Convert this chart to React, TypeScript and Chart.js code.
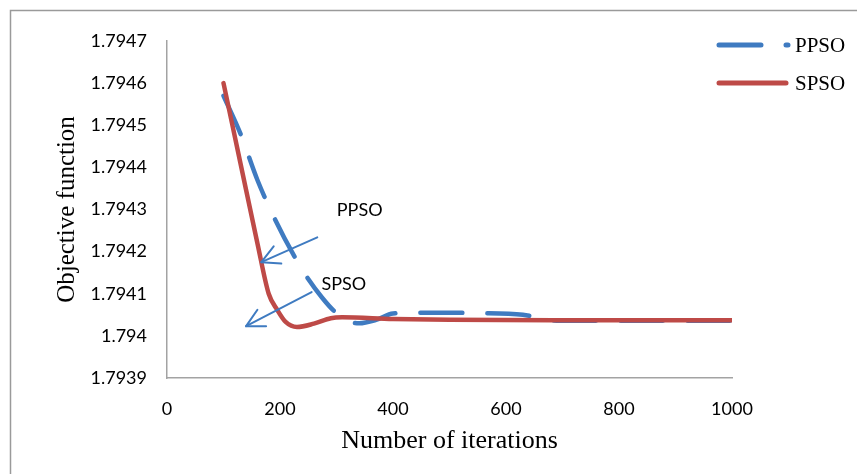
import React, { useEffect, useRef } from "react";
import { Chart, registerables } from "chart.js";
Chart.register(...registerables);

const seriesNames = ["PPSO", "SPSO"];
const ppsoIter = [100, 130, 160, 190, 225, 250, 275, 295, 320, 340, 370, 400, 450, 550, 630, 690, 800, 1000];
const ppsoValue = [1.79457, 1.79448, 1.79437, 1.79428, 1.79419, 1.794135, 1.79409, 1.79406, 1.794035, 1.79403, 1.794038, 1.794053, 1.794055, 1.794054, 1.79405, 1.794036, 1.794036, 1.794036];
const spsoIter = [100, 130, 160, 180, 195, 210, 230, 260, 290, 310, 400, 500, 700, 1000];
const spsoValue = [1.7946, 1.79441, 1.79422, 1.7941, 1.794062, 1.794033, 1.794021, 1.794029, 1.794042, 1.794044, 1.79404, 1.794038, 1.794037, 1.794037];
const xTicks = [0, 200, 400, 600, 800, 1000];
const xTickLabels = ["0", "200", "400", "600", "800", "1000"];
const yTicks = [1.7939, 1.794, 1.7941, 1.7942, 1.7943, 1.7944, 1.7945, 1.7946, 1.7947];
const yTickLabels = ["1.7939", "1.794", "1.7941", "1.7942", "1.7943", "1.7944", "1.7945", "1.7946", "1.7947"];
const xTitle = "Number of iterations";
const yTitle = "Objective function";
// annotation arrows in data coordinates: [fromX, fromY, toX, toY]
const arrowPPSO = [266, 1.794234, 167, 1.794175];
const arrowSPSO = [256, 1.794104, 140, 1.794023];
const labelPPSO = [341, 1.794299];
const labelSPSO = [313, 1.794123];

const BLUE = "#3F7BC1";
const RED = "#BE4A47";
const AXIS = "#A3A3A3";
const SANS = "Lato, 'Open Sans', sans-serif";
const SERIF = "'Liberation Serif', 'Times New Roman', serif";

const decorPlugin = {
  id: "decor",
  beforeDraw(chart: any) {
    const ctx = chart.ctx;
    ctx.save();
    ctx.fillStyle = "#ffffff";
    ctx.fillRect(0, 0, chart.width, chart.height);
    ctx.strokeStyle = "#9a9a9a";
    ctx.lineWidth = 1.5;
    ctx.beginPath();
    ctx.moveTo(10.5, chart.height);
    ctx.lineTo(10.5, 10.5);
    ctx.lineTo(chart.width, 10.5);
    ctx.stroke();
    ctx.restore();
  },
  afterDatasetsDraw(chart: any) {
    const ctx = chart.ctx;
    const xs = chart.scales.x;
    const ys = chart.scales.y;
    ctx.save();
    const drawArrow = (a: number[]) => {
      const x1 = xs.getPixelForValue(a[0]);
      const y1 = ys.getPixelForValue(a[1]);
      const x2 = xs.getPixelForValue(a[2]);
      const y2 = ys.getPixelForValue(a[3]);
      ctx.strokeStyle = BLUE;
      ctx.lineWidth = 2;
      ctx.lineCap = "round";
      ctx.lineJoin = "round";
      ctx.setLineDash([]);
      ctx.beginPath();
      ctx.moveTo(x1, y1);
      ctx.lineTo(x2, y2);
      ctx.stroke();
      const ang = Math.atan2(y1 - y2, x1 - x2);
      const L = 20;
      const w = (28 * Math.PI) / 180;
      ctx.beginPath();
      ctx.moveTo(x2 + L * Math.cos(ang - w), y2 + L * Math.sin(ang - w));
      ctx.lineTo(x2, y2);
      ctx.lineTo(x2 + L * Math.cos(ang + w), y2 + L * Math.sin(ang + w));
      ctx.stroke();
    };
    drawArrow(arrowPPSO);
    drawArrow(arrowSPSO);
    ctx.fillStyle = "#000";
    ctx.font = "18px " + SANS;
    ctx.textAlign = "center";
    ctx.textBaseline = "middle";
    ctx.fillText(seriesNames[0], xs.getPixelForValue(labelPPSO[0]), ys.getPixelForValue(labelPPSO[1]));
    ctx.fillText(seriesNames[1], xs.getPixelForValue(labelSPSO[0]), ys.getPixelForValue(labelSPSO[1]));

    // legend
    const lx0 = 719;
    ctx.lineWidth = 5;
    ctx.lineCap = "round";
    ctx.strokeStyle = BLUE;
    ctx.setLineDash([42, 25]);
    ctx.beginPath();
    ctx.moveTo(lx0, 45);
    ctx.lineTo(788, 45);
    ctx.stroke();
    ctx.setLineDash([]);
    ctx.strokeStyle = RED;
    ctx.beginPath();
    ctx.moveTo(lx0, 83);
    ctx.lineTo(786, 83);
    ctx.stroke();
    ctx.fillStyle = "#000";
    ctx.font = "21px " + SERIF;
    ctx.textAlign = "left";
    ctx.fillText(seriesNames[0], 795, 46);
    ctx.fillText(seriesNames[1], 795, 84);
    ctx.restore();
  },
};

export default function App() {
  const ref = useRef<HTMLCanvasElement | null>(null);
  useEffect(() => {
    if (!ref.current) return;
    const chart = new Chart(ref.current, {
      type: "line",
      data: {
        datasets: [
          {
            label: seriesNames[0],
            data: ppsoIter.map((x, i) => ({ x, y: ppsoValue[i] })),
            borderColor: BLUE,
            borderWidth: 4.5,
            borderDash: [42, 25],
            borderCapStyle: "round",
            pointRadius: 0,
            cubicInterpolationMode: "monotone",
            fill: false,
            order: 1,
          },
          {
            label: seriesNames[1],
            data: spsoIter.map((x, i) => ({ x, y: spsoValue[i] })),
            borderColor: RED,
            borderWidth: 4.5,
            borderCapStyle: "round",
            pointRadius: 0,
            cubicInterpolationMode: "monotone",
            fill: false,
            order: 0,
          },
        ],
      },
      options: {
        responsive: false,
        animation: false,
        devicePixelRatio: 1,
        layout: { padding: { left: 10, top: 41, right: 125, bottom: 10 } },
        plugins: { legend: { display: false }, tooltip: { enabled: false } },
        scales: {
          x: {
            type: "linear",
            min: 0,
            max: 1000,
            afterBuildTicks: (s: any) => {
              s.ticks = xTicks.map((v) => ({ value: v }));
            },
            afterFit: (s: any) => {
              s.height = 86;
            },
            grid: { display: false, drawTicks: true, tickLength: 6, tickColor: AXIS, tickWidth: 1.5 },
            border: { display: true, color: AXIS, width: 1.5 },
            ticks: {
              color: "#000",
              font: { family: SANS, size: 18 },
              padding: 14,
              maxRotation: 0,
              callback: (_v: any, i: number) => xTickLabels[i],
            },
            title: { display: true, text: xTitle, color: "#000", font: { family: SERIF, size: 26 }, padding: { bottom: 7 } },
          },
          y: {
            type: "linear",
            min: 1.7939,
            max: 1.7947,
            afterBuildTicks: (s: any) => {
              s.ticks = yTicks.map((v) => ({ value: v }));
            },
            afterFit: (s: any) => {
              s.width = 157;
            },
            grid: { display: false, drawTicks: true, tickLength: 6, tickColor: AXIS, tickWidth: 1.5 },
            border: { display: true, color: AXIS, width: 1.5 },
            ticks: {
              color: "#000",
              font: { family: SANS, size: 18 },
              padding: 14,
              callback: (_v: any, i: number) => yTickLabels[i],
            },
            title: { display: true, text: yTitle, color: "#000", font: { family: SERIF, size: 25 }, padding: { top: 42 } },
          },
        },
      },
      plugins: [decorPlugin],
    } as any);
    return () => chart.destroy();
  }, []);
  return (
    <div style={{ position: "absolute", left: 0, top: 0, width: 857, height: 474 }}>
      <canvas ref={ref} width={857} height={474} style={{ display: "block" }} />
    </div>
  );
}
